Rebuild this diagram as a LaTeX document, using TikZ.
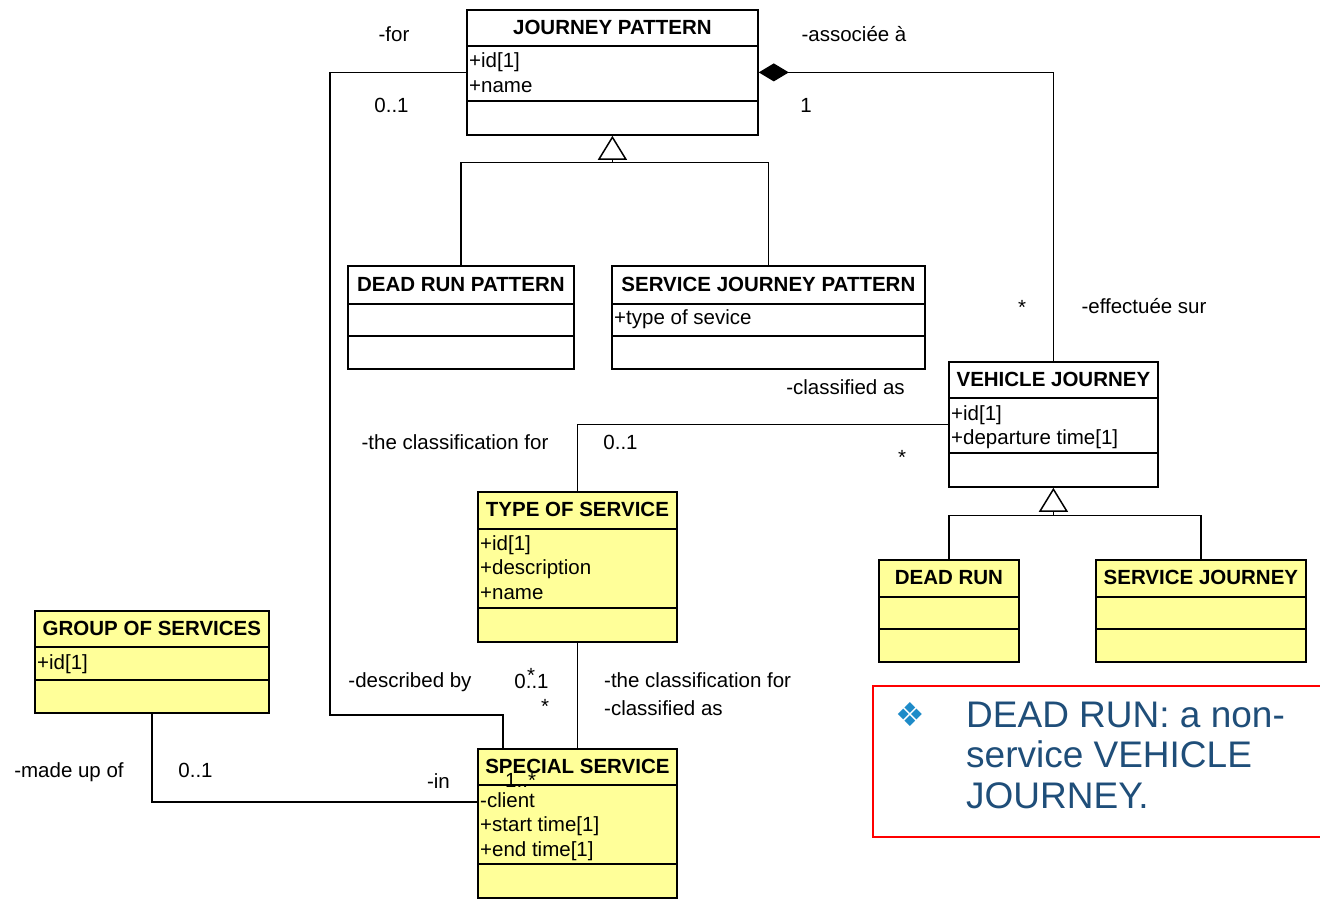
\documentclass[tikz,border=0pt]{standalone}
\usepackage{fontspec}
\setmainfont{Liberation Sans}
\newfontfamily\symfont{DejaVu Sans}
\usetikzlibrary{arrows.meta}

\definecolor{umlyellow}{HTML}{FFFF99}
\definecolor{notetext}{HTML}{1F4E79}
\definecolor{notebullet}{HTML}{1E8BC8}
\definecolor{notered}{HTML}{FF0000}

\newcommand{\umlfont}{\fontsize{20.5}{24}\selectfont}

\tikzset{
  classbox/.style={draw, line width=1.8pt, inner sep=0pt, rectangle},
  compline/.style={line width=1.8pt},
  classtitle/.style={anchor=base, inner sep=0pt, font=\umlfont\bfseries},
  attr/.style={anchor=base west, inner sep=0pt, font=\umlfont},
  assoc/.style={line width=1.2pt},
  lbl/.style={anchor=base, inner sep=0pt, font=\umlfont},
  lblw/.style={anchor=base west, inner sep=0pt, font=\umlfont},
  gentip/.style={-{Triangle[open, length=24pt, width=29pt, line width=1.5pt]}},
  comptip/.style={{Diamond[length=30pt, width=18pt]}-},
  notetxt/.style={anchor=base west, inner sep=0pt, text=notetext,
    font=\fontsize{37}{40}\selectfont},
}

% class box: name, fill, x, y, width, height, title, header height, body bottom
\newcommand{\umlclass}[9]{%
  \node[classbox, fill=#2, minimum width=#5, minimum height=#6,
        anchor=north west] (#1) at (#3,#4) {};
  \draw[compline] ([yshift=-#8]#1.north west) -- ([yshift=-#8]#1.north east);
  \draw[compline] ([yshift=-#9]#1.north west) -- ([yshift=-#9]#1.north east);
  \node[classtitle] (#1-title) at ([yshift=-#8/2-6.8]#1.north) {#7};
}
% attribute line: class, baseline offset from top, text
\newcommand{\umlattr}[3]{%
  \node[attr] at ([xshift=3, yshift=-#2]#1.north west) {#3};
}

\begin{document}
\begin{tikzpicture}[x=1pt, y=-1pt]
\useasboundingbox (0,0) rectangle (1320,901);

% ---------- classes ----------
\umlclass{jp}{white}{466}{9}{291}{125}{JOURNEY PATTERN}{37}{92}
\umlattr{jp}{59}{+id[1]}
\umlattr{jp}{83.5}{+name}

\umlclass{drp}{white}{347}{265}{226}{103}{DEAD RUN PATTERN}{39}{71}
\umlclass{sjp}{white}{611}{265}{313}{103}{SERVICE JOURNEY PATTERN}{39}{71}
\umlattr{sjp}{60}{+type of sevice}

\umlclass{vj}{white}{948}{361}{209}{125}{VEHICLE JOURNEY}{37}{92}
\umlattr{vj}{59}{+id[1]}
\umlattr{vj}{83.5}{+departure time[1]}

\umlclass{dr}{umlyellow}{878}{559}{140}{102}{DEAD RUN}{38}{70}
\umlclass{sj}{umlyellow}{1095}{559}{210}{102}{SERVICE JOURNEY}{38}{70}

\umlclass{tos}{umlyellow}{477}{491}{199}{150}{TYPE OF SERVICE}{38}{117}
\umlattr{tos}{59}{+id[1]}
\umlattr{tos}{83.5}{+description}
\umlattr{tos}{108}{+name}

\umlclass{gos}{umlyellow}{34}{610}{234}{102}{GROUP OF SERVICES}{37}{70}
\umlattr{gos}{59}{+id[1]}

\umlclass{ss}{umlyellow}{477}{748}{199}{149}{SPECIAL SERVICE}{37}{116}
\umlattr{ss}{59}{-client}
\umlattr{ss}{83.5}{+start time[1]}
\umlattr{ss}{108}{+end time[1]}

% ---------- generalisations ----------
\coordinate (jpbus) at ([yshift=-27]jp.south);
\draw[assoc, gentip] (jpbus) -- (jp.south);
\draw[assoc] (drp.north) |- (jpbus) -| (sjp.north);

\coordinate (vjbus) at ([yshift=-28]vj.south);
\draw[assoc, gentip] (vjbus) -- (vj.south);
\draw[assoc] (dr.north) |- (vjbus) -| (sj.north);

% ---------- associations ----------
\draw[assoc, comptip] (jp.east) -| (vj.north);

\coordinate (jpleft) at (330,715);
\coordinate (ssjp) at ([xshift=26]ss.north west);
\draw[assoc] (jp.west) -| (jpleft) -| (ssjp);

\draw[assoc] (vj.west) -| (tos.north);
\draw[assoc] (tos.south) -- (ss.north);

\coordinate (ssgos) at ([yshift=-54]ss.north west);
\draw[assoc] (gos.south) |- (ssgos);

% ---------- role names and multiplicities ----------
\node[lbl] (l-for) at (394,42) {-for};
\node[lbl] (m-for) at (391.5,113) {0..1};
\node[lbl] (l-assoc) at (854,42) {-associée à};
\node[lbl] (m-assoc) at (806,113) {1};
\node[lbl] (m-eff) at (1022,314.5) {*};
\node[lbl] (l-eff) at (1144,314) {-effectuée sur};

\node[lbl] (l-cls1) at (845.5,394) {-classified as};
\node[lbl] (l-clf1) at (455,449) {-the classification for};
\node[lbl] (m-clf1) at (620.5,449) {0..1};
\node[lbl] (m-cls1) at (902,464) {*};

\node[lbl] (l-desc) at (410,687) {-described by};
\node[lbl] (m-desc) at (531.5,688) {0..1};
\node[lbl] (m-descs) at (531,682) {*};
\node[lblw] (l-clf2) at (604,687) {-the classification for};
\node[lblw] (l-cls2) at (604,715) {-classified as};
\node[lbl] (m-cls2) at (545,713) {*};

\node[lbl] (l-made) at (69,777) {-made up of};
\node[lbl] (m-made) at (195.5,777) {0..1};
\node[lbl] (l-in) at (438.5,788) {-in};
\node[lblw] (m-in) at (505,787) {1..*};

% ---------- note ----------
\draw[notered, line width=2pt] (873,686) rectangle (1330,837);
\node[text=notebullet, inner sep=0pt, font=\symfont\fontsize{33}{33}\selectfont]
  (bullet) at (910,714.5) {❖};
\node[notetxt] (note1) at (966,727) {DEAD RUN: a non-};
\node[notetxt] (note2) at (966,767.5) {service VEHICLE};
\node[notetxt] (note3) at (966,808) {JOURNEY.};

\end{tikzpicture}
\end{document}
